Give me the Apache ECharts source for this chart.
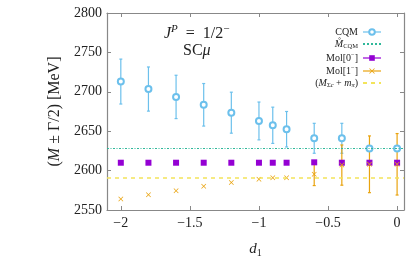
<!DOCTYPE html>
<html><head><meta charset="utf-8">
<script src="https://cdn.jsdelivr.net/npm/echarts@6/dist/echarts.min.js"></script>
<style>html,body{margin:0;padding:0;background:#fff}#c{width:415px;height:259px}</style>
</head><body><div id="c"></div>
<script>
// ---- data ----
const d1 = [-2, -1.8, -1.6, -1.4, -1.2, -1.0, -0.9, -0.8, -0.6, -0.4, -0.2, 0];
const cqmMass = [2713, 2703.5, 2693.5, 2683.5, 2673.5, 2663, 2657.5, 2652.5, 2641, 2641, 2628, 2628];
const cqmErr  = [28.5, 28, 27.5, 27, 26, 24, 23, 22.5, 19, 19, 0, 0];
const mol0Mass = [2610, 2610, 2610, 2610, 2610, 2610, 2610, 2610, 2610.5, 2610, 2610, 2610];
const mol0Err  = [0, 0, 0, 0, 0, 0, 0, 0, 0, 0, 0, 0];
const mol1Mass = [2564, 2569.5, 2574.5, 2580, 2585, 2589, 2591, 2591, 2595.5, 2607, 2608, 2608];
const mol1Err  = [0, 0, 0, 0, 0, 0, 0, 0, 14.5, 25.5, 36, 39];
const mCQMring = 2628;
const threshold = 2590.5;
const xTicks = [-2, -1.5, -1, -0.5, 0];
const yTicks = [2550, 2600, 2650, 2700, 2750, 2800];

const C_CQM = '#6cc0ec', C_RING = '#2fb89a', C_M0 = '#9400d3', C_M1 = '#e9a30e', C_TH = '#f3e45a';
const FONT = 'Liberation Serif';

function pts(m){ return d1.map((x,i)=>[x, m[i]]); }
function errData(m,e){ return d1.map((x,i)=>[x, m[i], e[i]]); }
function errSeries(m,e,color){
  return {
    type:'custom', silent:true, z:2,
    data: errData(m,e),
    renderItem(params, api){
      const x = api.value(0), y = api.value(1), e = api.value(2);
      if (!e) return null;
      const top = api.coord([x, y+e]), bot = api.coord([x, y-e]);
      const st = {stroke: color, lineWidth: 1.2};
      return {type:'group', children:[
        {type:'line', shape:{x1:top[0], y1:top[1], x2:bot[0], y2:bot[1]}, style:st},
        {type:'line', shape:{x1:top[0]-1.5, y1:top[1], x2:top[0]+1.5, y2:top[1]}, style:st},
        {type:'line', shape:{x1:bot[0]-1.5, y1:bot[1], x2:bot[0]+1.5, y2:bot[1]}, style:st}
      ]};
    }
  };
}
const crossPath = 'path://M0,1L1,0L5,4L9,0L10,1L6,5L10,9L9,10L5,6L1,10L0,9L4,5Z';
const fmtMinus = v => (v < 0 ? '\u2212' + String(-v) : String(v));

const chart = echarts.init(document.getElementById('c'), null, {renderer:'canvas'});
const axisCol = '#888';
const option = {
  animation:false,
  textStyle:{fontFamily:FONT},
  grid:{left:107, right:11, top:13, bottom:49, outerBoundsMode:'none', show:false},
  xAxis:[{
    type:'value', min:-2.1, max:0.05,
    axisLine:{show:true, onZero:false, lineStyle:{color:axisCol, width:1.2}},
    axisTick:{show:true, inside:true, length:4, customValues:xTicks, lineStyle:{color:axisCol}},
    axisLabel:{customValues:xTicks, formatter:fmtMinus, color:'#222', fontSize:14, fontFamily:FONT, margin:6},
    splitLine:{show:false},
    name:'{i|d}{s|1}', nameLocation:'middle', nameGap:30,
    nameTextStyle:{rich:{i:{fontFamily:FONT, fontStyle:'italic', fontSize:15, color:'#222'}, s:{fontFamily:FONT, fontSize:10, color:'#222', padding:[8,0,0,0]}}}
  },{
    type:'value', position:'top', min:-2.1, max:0.05,
    axisLine:{show:true, onZero:false, lineStyle:{color:axisCol, width:1.2}},
    axisTick:{show:true, inside:true, length:4, customValues:xTicks, lineStyle:{color:axisCol}},
    axisLabel:{show:false}, splitLine:{show:false}
  }],
  yAxis:[{
    type:'value', min:2550, max:2800, interval:50,
    axisLine:{show:true, onZero:false, lineStyle:{color:axisCol, width:1.2}},
    axisTick:{show:true, inside:true, length:4, lineStyle:{color:axisCol}},
    axisLabel:{color:'#222', fontSize:14, fontFamily:FONT, margin:5, formatter:v => String(v)},
    splitLine:{show:false},
    name:'({i|M} \u00b1 \u0393/2) [MeV]', nameLocation:'middle', nameGap:43, nameRotate:90,
    nameTextStyle:{fontSize:16, color:'#222', fontFamily:FONT, rich:{i:{fontStyle:'italic', fontSize:16, fontFamily:FONT, color:'#222'}}}
  },{
    type:'value', position:'right', min:2550, max:2800, interval:50,
    axisLine:{show:true, onZero:false, lineStyle:{color:axisCol, width:1.2}},
    axisTick:{show:true, inside:true, length:4, lineStyle:{color:axisCol}},
    axisLabel:{show:false}, splitLine:{show:false}
  }],
  legend:{
    orient:'vertical', align:'right', right:28, top:22, itemWidth:18, itemHeight:7, itemGap:2,
    selectedMode:false,
    textStyle:{fontFamily:FONT, fontSize:10, color:'#222', lineHeight:9,
      rich:{
        i:{fontFamily:FONT, fontStyle:'italic', fontSize:10, color:'#222'},
        n:{fontFamily:FONT, fontSize:10, color:'#222'},
        s:{fontFamily:FONT, fontSize:6.5, color:'#222', padding:[5,0,0,0]},
        si:{fontFamily:FONT, fontSize:6.5, fontStyle:'italic', color:'#222', padding:[5,0,0,0]},
        u:{fontFamily:FONT, fontSize:6.5, color:'#222', padding:[0,0,5,0]}
      }},
    formatter(name){
      if (name==='CQM') return '{n|CQM}';
      if (name==='ring') return '{i|M\u030A}{s|CQM}';
      if (name==='mol0') return '{n|Mol[0}{u|\u2212}{n|]}';
      if (name==='mol1') return '{n|Mol[1}{u|\u2212}{n|]}';
      if (name==='th') return '{n|(}{i|M}{s|\u03a3}{si|c}{n| + }{i|m}{si|\u03c0}{n|)}';
      return name;
    },
    data:[
      {name:'CQM', lineStyle:{opacity:1, width:1.2, color:C_CQM}},
      {name:'ring', itemStyle:{opacity:0}},
      {name:'mol0', lineStyle:{opacity:1, width:1.2, color:C_M0}},
      {name:'mol1', lineStyle:{opacity:1, width:1.2, color:C_M1}},
      {name:'th', itemStyle:{opacity:0}}
    ]
  },
  graphic:[
    {type:'text', left:164, top:24, style:{rich:{
        i:{fontFamily:FONT, fontStyle:'italic', fontSize:16, fill:'#222'},
        n:{fontFamily:FONT, fontSize:16, fill:'#222'},
        u:{fontFamily:FONT, fontSize:11, fill:'#222', padding:[0,0,8,0]},
        ui:{fontFamily:FONT, fontSize:11, fontStyle:'italic', fill:'#222', padding:[0,0,8,0]}},
      text:'{i|J}{ui|P}{n|  =  1/2}{u|\u2212}'}},
    {type:'text', left:183, top:43, style:{rich:{
        i:{fontFamily:FONT, fontStyle:'italic', fontSize:16, fill:'#222'},
        n:{fontFamily:FONT, fontSize:16, fill:'#222'}},
      text:'{n|SC}{i|\u03bc}'}}
  ],
  series:[
    errSeries(cqmMass, cqmErr, C_CQM),
    errSeries(mol1Mass, mol1Err, C_M1),
    {name:'ring', type:'line', data:[], symbol:'none', lineStyle:{color:C_RING, type:[2,2], width:1.2},
      markLine:{silent:true, symbol:'none', label:{show:false}, lineStyle:{color:C_RING, type:[2,1.5,1,1.5], width:1.2}, data:[{yAxis:mCQMring}]}},
    {name:'th', type:'line', data:[], symbol:'none', lineStyle:{color:C_TH, type:[4,4], width:1.5},
      markLine:{silent:true, symbol:'none', label:{show:false}, lineStyle:{color:C_TH, type:[4,4], width:1.5}, data:[{yAxis:threshold}]}},
    {name:'CQM', type:'line', data:pts(cqmMass), symbol:'emptyCircle', symbolSize:6, z:3,
      lineStyle:{width:0, opacity:0}, itemStyle:{color:C_CQM, borderWidth:1.2}},
    {name:'mol0', type:'line', data:pts(mol0Mass), symbol:'rect', symbolSize:6, z:3,
      lineStyle:{width:0, opacity:0}, itemStyle:{color:C_M0}},
    {name:'mol1', type:'line', data:pts(mol1Mass), symbol:crossPath, symbolSize:5, z:4,
      lineStyle:{width:0, opacity:0}, itemStyle:{color:C_M1}}
  ]
};
chart.setOption(option);
</script></body></html>
